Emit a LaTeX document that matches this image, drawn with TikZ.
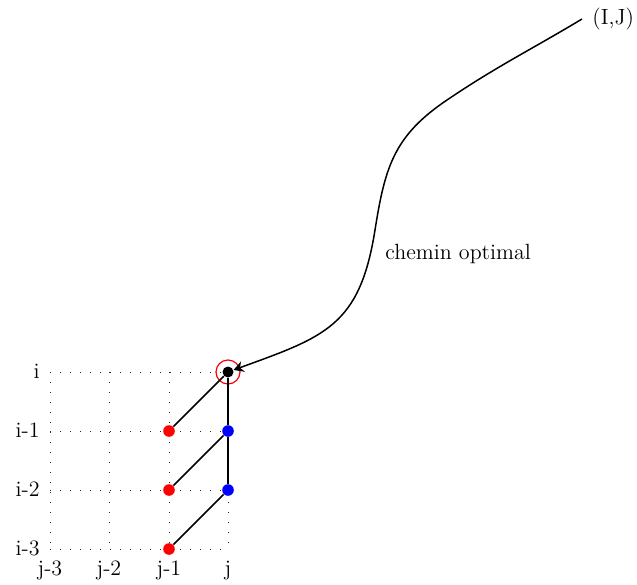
\documentclass[tikz,border=0pt]{standalone}
\usetikzlibrary{arrows.meta}
\begin{document}
\begin{tikzpicture}[x=0.5pt,y=-0.5pt,
  lbl/.style={font=\fontsize{11}{13}\selectfont, inner sep=0pt},
  griddot/.style={line width=0.45pt, dash pattern=on 0.45pt off 4.55pt, black!85},
  pt/.style={circle, inner sep=0pt, minimum size=5.8pt, fill=#1},
  edge/.style={line width=0.8pt},
]
\useasboundingbox (0,0) rectangle (637,584);

% grid coordinates
\foreach \c/\x in {0/50,1/109,2/169,3/228}{
  \foreach \r/\y in {0/372,1/431,2/490,3/549}{
    \coordinate (g\c\r) at (\x,\y);
  }
}
% dotted grid
\foreach \r in {0,1,2,3}{ \draw[griddot] (g0\r) -- (g3\r); }
\foreach \c in {0,1,2,3}{ \draw[griddot] (g\c0) -- (g\c3); }

% row labels
\node[lbl, anchor=base east] (li0) at (40,378) {i};
\node[lbl, anchor=base east] (li1) at (40,437) {i-1};
\node[lbl, anchor=base east] (li2) at (40,496) {i-2};
\node[lbl, anchor=base east] (li3) at (40,555) {i-3};
% column labels
\node[lbl, anchor=base] (lj3) at (50,575) {j-3};
\node[lbl, anchor=base] (lj2) at (109,575) {j-2};
\node[lbl, anchor=base] (lj1) at (169,575) {j-1};
\node[lbl, anchor=base] (lj0) at (228,575) {j};

% highlight circle
\node[circle, draw=red, line width=0.6pt, minimum size=12pt, inner sep=0pt] (sel) at (g30) {};

% points
\node[pt=black, minimum size=5.5pt] (ij) at (g30) {};
\node[pt=red] (r1) at (g21) {};
\node[pt=red] (r2) at (g22) {};
\node[pt=red] (r3) at (g23) {};
\node[pt=blue] (b1) at (g31) {};
\node[pt=blue] (b2) at (g32) {};

% edges
\draw[edge] (ij) -- (r1);
\draw[edge] (ij) -- (b1);
\draw[edge] (b1) -- (b2);
\draw[edge] (b1) -- (r2);
\draw[edge] (b2) -- (r3);

% (I,J) and optimal path
\node[lbl, anchor=west, inner sep=5pt] (IJ) at (582,19) {(I,J)};
\coordinate (pB) at (447,100);
\coordinate (pC) at (375,230);
\draw[line width=0.75pt, -{Stealth[length=5pt,width=5.5pt]}]
  (IJ.west) to[out=211,in=34] (pB) to[out=214,in=81,looseness=1.1] (pC)
  to[out=261,in=20,looseness=1.25] (ij);
\node[lbl, anchor=base west] (lab) at (385,259) {chemin optimal};
\end{tikzpicture}
\end{document}
